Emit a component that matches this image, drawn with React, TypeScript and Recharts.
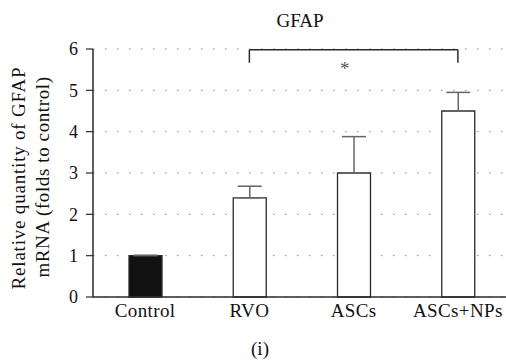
import { BarChart, Bar, XAxis, YAxis, CartesianGrid, ErrorBar, Cell, ReferenceLine, ReferenceDot } from "recharts"

const groups = ["Control", "RVO", "ASCs", "ASCs+NPs"]
const means = [1.0, 2.4, 3.0, 4.5]
const sdUp = [0.01, 0.28, 0.88, 0.45]
const yTicks = [0, 1, 2, 3, 4, 5, 6]

const data = groups.map((g, i) => ({ group: g, value: means[i], err: [0, sdUp[i]] }))

const serif = "Liberation Serif, serif"
const ink = "#2b2b2b"

export default function App() {
  return (
    <div style={{ position: "absolute", left: 0, top: 0, width: 506, height: 362, overflow: "hidden", background: "#fff" }}>
      <BarChart width={510} height={362} data={data} margin={{ top: 49, right: 0, bottom: 35, left: 0 }} barCategoryGap={0}>
        <CartesianGrid vertical={false} stroke="#888" strokeDasharray="1.5 10.5" />
        <XAxis dataKey="group" tickLine={false} tickSize={0} tickMargin={7} height={30}
          axisLine={{ stroke: ink, strokeWidth: 1.5 }}
          tick={{ fontFamily: serif, fontSize: 19, fill: "#111", letterSpacing: 0.4 }} />
        <YAxis domain={[0, 6]} ticks={yTicks} width={93} tickSize={7} tickMargin={8} interval={0}
          axisLine={{ stroke: ink, strokeWidth: 1.5 }} tickLine={{ stroke: ink, strokeWidth: 1.2 }}
          tick={{ fontFamily: serif, fontSize: 18, fill: "#111" }} />
        <Bar dataKey="value" barSize={33} isAnimationActive={false} stroke={ink} strokeWidth={1.3}>
          {data.map((d, i) => <Cell key={d.group} fill={i === 0 ? "#111" : "#fff"} />)}
          <ErrorBar dataKey="err" direction="y" width={12} stroke="#666" strokeWidth={1.5} isAnimationActive={false} />
        </Bar>
        <ReferenceLine segment={[{ x: "RVO", y: 5.98 }, { x: "ASCs+NPs", y: 5.98 }]} stroke={ink} strokeWidth={1.5} ifOverflow="visible" />
        <ReferenceLine segment={[{ x: "RVO", y: 5.98 }, { x: "RVO", y: 5.67 }]} stroke={ink} strokeWidth={1.5} ifOverflow="visible" />
        <ReferenceLine segment={[{ x: "ASCs+NPs", y: 5.98 }, { x: "ASCs+NPs", y: 5.67 }]} stroke={ink} strokeWidth={1.5} ifOverflow="visible" />
        <ReferenceDot x="ASCs" y={5.63} r={0} fill="none" stroke="none" ifOverflow="visible"
          label={{ value: "*", position: "center", dx: -9, dy: 4, fontFamily: serif, fontSize: 19, fill: "#555" }} />
      </BarChart>
      <svg width={506} height={362} style={{ position: "absolute", left: 0, top: 0, pointerEvents: "none" }}>
        <text x={300} y={27} textAnchor="middle" fontFamily={serif} fontSize={19} fill="#111">GFAP</text>
        <text transform="rotate(-90, 25, 178)" x={25} y={178} textAnchor="middle" fontFamily={serif} fontSize={19} fill="#111" letterSpacing={0.8}>Relative quantity of GFAP</text>
        <text transform="rotate(-90, 49, 177)" x={49} y={177} textAnchor="middle" fontFamily={serif} fontSize={19} fill="#111" letterSpacing={0.6}>mRNA (folds to control)</text>
        <text x={260} y={355} textAnchor="middle" fontFamily={serif} fontSize={19} fill="#111">(i)</text>
      </svg>
    </div>
  )
}
